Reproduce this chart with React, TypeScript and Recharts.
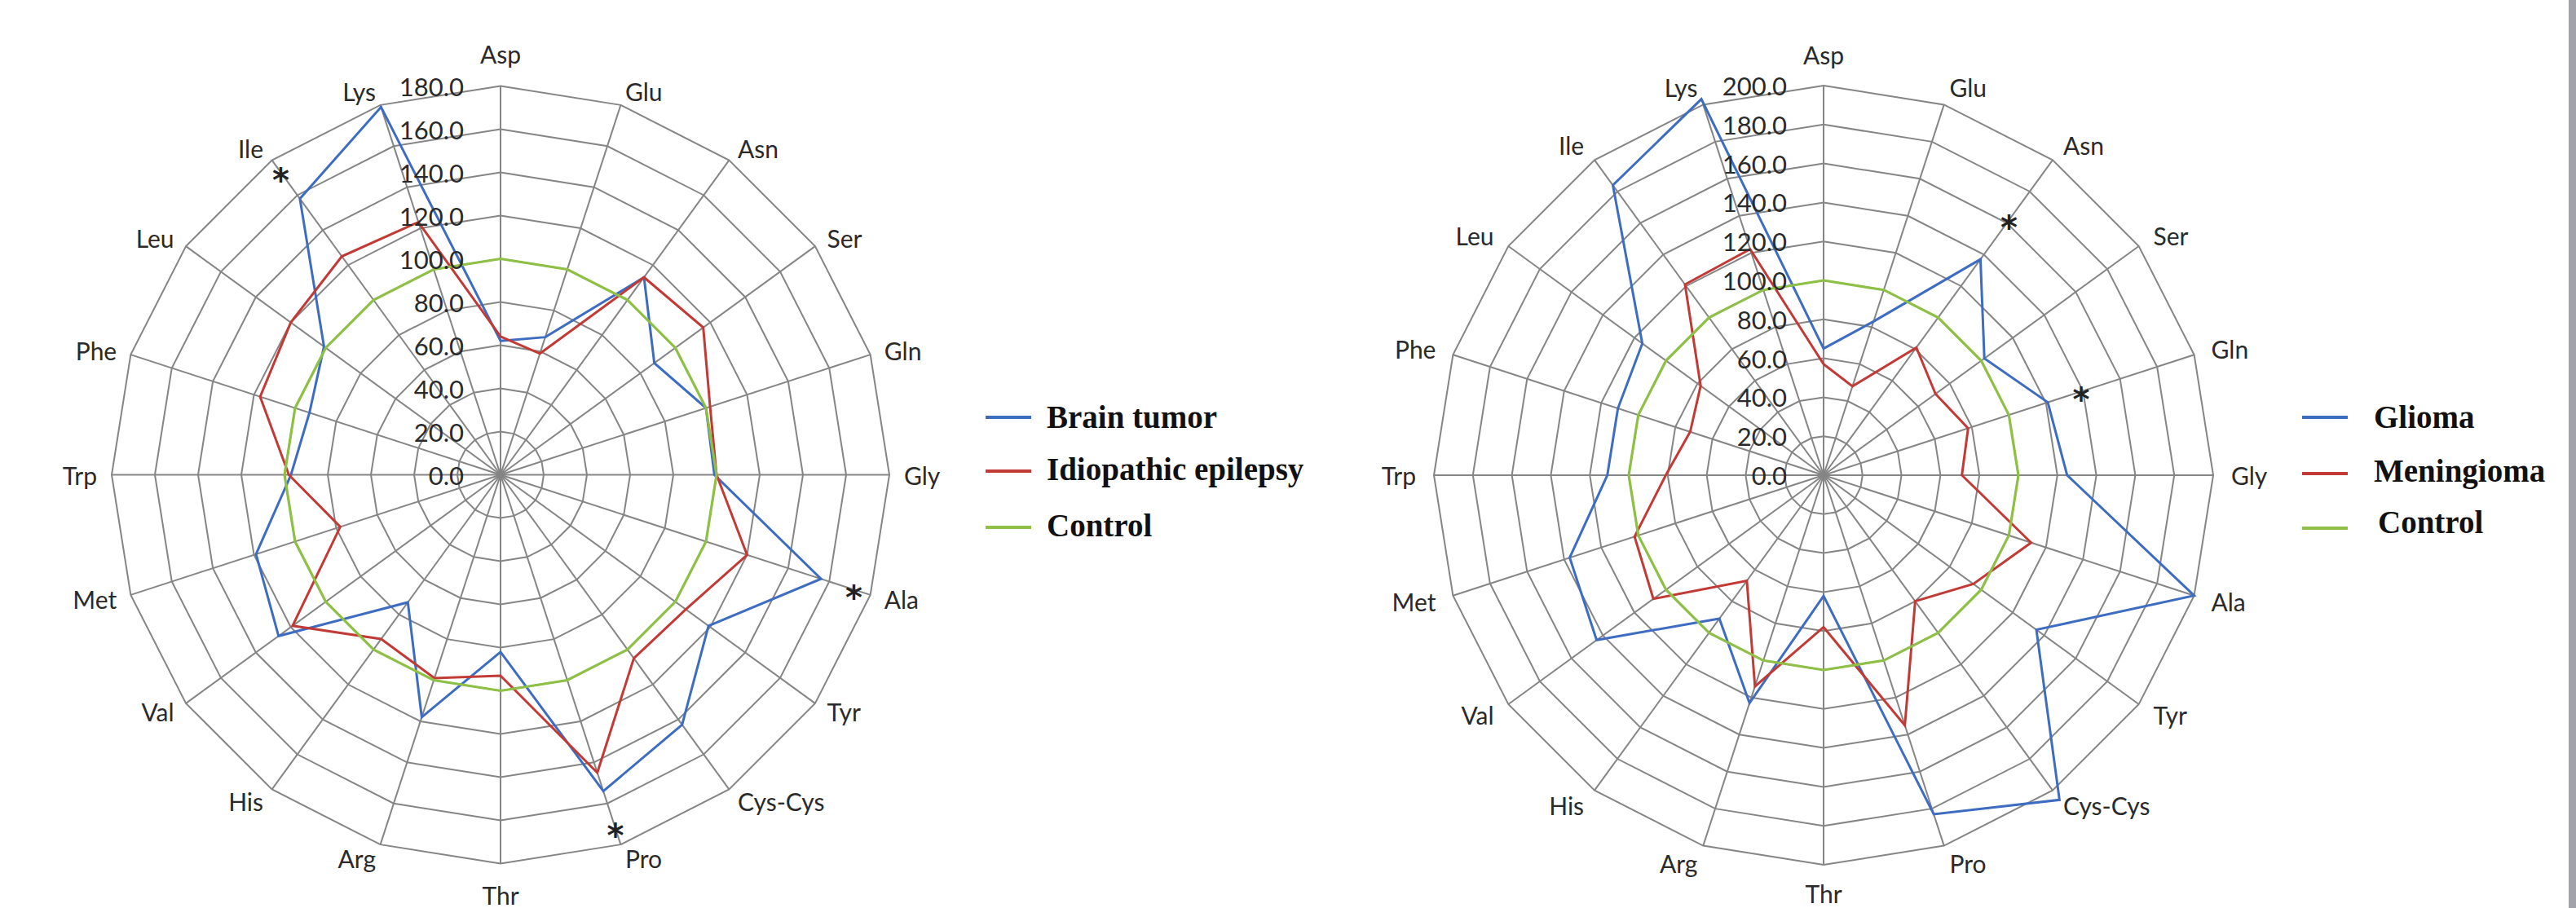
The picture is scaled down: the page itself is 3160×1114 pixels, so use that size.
import React from 'react';
import { RadarChart, Radar, PolarGrid, PolarAngleAxis, PolarRadiusAxis, Legend } from 'recharts';

// ---------- data ----------
const aminoAcids = ['Asp', 'Glu', 'Asn', 'Ser', 'Gln', 'Gly', 'Ala', 'Tyr', 'Cys-Cys', 'Pro', 'Thr', 'Arg', 'His', 'Val', 'Met', 'Trp', 'Phe', 'Leu', 'Ile', 'Lys'];

// left panel
const brainTumor = [62, 67, 113, 88, 100, 99, 156, 119, 143, 154, 82, 118, 73, 127, 119, 97, 93, 101, 158, 179];
const epilepsy = [64, 59, 113, 116, 102, 100, 120, 106, 105, 145, 93, 99, 94, 119, 78, 98, 117, 120, 125, 123];
const controlLeft = [100, 100, 100, 100, 100, 100, 100, 100, 100, 100, 100, 100, 100, 100, 100, 100, 100, 100, 100, 100];
const starsLeft = [0, 0, 0, 0, 0, 0, 172, 0, 0, 172, 0, 0, 0, 0, 0, 0, 0, 0, 173, 0];
const leftTicks = [0, 20, 40, 60, 80, 100, 120, 140, 160, 180];

// right panel
const glioma = [65, 83, 137, 102, 121, 125, 200, 135, 206, 183, 62, 123, 91, 144, 137, 111, 111, 115, 184, 203];
const meningioma = [57, 48, 81, 71, 78, 71, 112, 95, 80, 135, 78, 114, 67, 108, 102, 81, 72, 78, 121, 122];
const controlRight = [100, 100, 100, 100, 100, 100, 100, 100, 100, 100, 100, 100, 100, 100, 100, 100, 100, 100, 100, 100];
const starsRight = [0, 0, 162, 0, 139, 0, 0, 0, 0, 0, 0, 0, 0, 0, 0, 0, 0, 0, 0, 0];
const rightTicks = [0, 20, 40, 60, 80, 100, 120, 140, 160, 180, 200];

const leftNames = ['Brain tumor', 'Idiopathic epilepsy', 'Control'];
const rightNames = ['Glioma', 'Meningioma', 'Control'];

const BLUE = '#3D6CC0';
const RED = '#C23A36';
const GREEN = '#8FC046';
const GRID = '#858585';

const leftData = aminoAcids.map((name, i) => ({
  name,
  a: brainTumor[i],
  b: epilepsy[i],
  c: controlLeft[i],
  s: starsLeft[i],
}));

const rightData = aminoAcids.map((name, i) => ({
  name,
  a: glioma[i],
  b: meningioma[i],
  c: controlRight[i],
  s: starsRight[i],
}));

// ---------- renderers ----------
const makeAngleTick = (cx: number, cy: number, R: number, gap: number, vTop: number, vBottom: number) => (props: any) => {
  const { x, y, payload } = props;
  const dx = x - cx;
  const dy = y - cy;
  const len = Math.sqrt(dx * dx + dy * dy) || 1;
  const ux = dx / len;
  const uy = dy / len;
  const label = String(payload.value);
  const r = R + gap;
  let px = cx + ux * r;
  let py = cy + uy * r;
  let anchor: 'start' | 'end' | 'middle' = 'middle';
  if (Math.abs(ux) < 0.05) {
    py += uy < 0 ? -vTop : vBottom;
  } else {
    anchor = ux > 0 ? 'start' : 'end';
  }
  return (
    <text
      x={px}
      y={py}
      textAnchor={anchor}
      dominantBaseline="central"
      fontFamily="Lato, sans-serif"
      fontSize={30}
      fill="#2a2a2a"
    >
      {label}
    </text>
  );
};

const radiusTick = (props: any) => {
  const { x, y, payload } = props;
  return (
    <text
      x={x - 45}
      y={y}
      textAnchor="end"
      dominantBaseline="central"
      fontFamily="Lato, sans-serif"
      fontSize={31}
      fill="#2a2a2a"
    >
      {Number(payload.value).toFixed(1)}
    </text>
  );
};

const makeStarDot = (cx0: number, cy0: number) => (props: any) => {
  const { cx, cy, index } = props;
  if (!Number.isFinite(cx) || !Number.isFinite(cy)) return <g key={`st-${index}`} />;
  const d = Math.hypot(cx - cx0, cy - cy0);
  if (d < 20) return <g key={`st-${index}`} />;
  return (
    <text
      key={`st-${index}`}
      x={cx}
      y={cy}
      dy="0.58em"
      textAnchor="middle"
      fontFamily="DejaVu Sans, sans-serif"
      fontSize={40}
      fontWeight="bold"
      fill="#222"
    >
      *
    </text>
  );
};

type Row = { lineY: number; textDy: number; textX: number };

const makeLegend = (names: string[], colors: string[], rows: Row[]) => () => (
  <svg width={420} height={230}>
    {names.map((name, i) => {
      const row = rows[i];
      return (
        <g key={`lg-${i}`}>
          <line x1={4} x2={60} y1={row.lineY} y2={row.lineY} stroke={colors[i]} strokeWidth={4} />
          <text
            x={row.textX}
            y={row.lineY + row.textDy}
            fontFamily="'Liberation Serif', 'Times New Roman', serif"
            fontWeight="bold"
            fontSize={39}
            fill="#111"
          >
            {name}
          </text>
        </g>
      );
    })}
  </svg>
);

type PanelProps = {
  data: any[];
  names: string[];
  ticks: number[];
  width: number;
  cx: number;
  cy: number;
  R: number;
  gap: number;
  vTop: number;
  vBottom: number;
  legendLeft: number;
  legendTop: number;
  rows: Row[];
};

const Panel = ({ data, names, ticks, width, cx, cy, R, gap, vTop, vBottom, legendLeft, legendTop, rows }: PanelProps) => {
  const colors = [BLUE, RED, GREEN];
  return (
    <RadarChart
      width={width}
      height={1114}
      data={data}
      cx={cx}
      cy={cy}
      outerRadius={R}
      margin={{ top: 0, right: 0, bottom: 0, left: 0 }}
    >
      <PolarGrid gridType="polygon" stroke={GRID} strokeWidth={2} />
      <PolarAngleAxis
        dataKey="name"
        tick={makeAngleTick(cx, cy, R, gap, vTop, vBottom)}
        tickLine={false}
        axisLine={false}
      />
      <PolarRadiusAxis
        angle={90}
        domain={[0, ticks[ticks.length - 1]]}
        ticks={ticks as any}
        tickCount={ticks.length}
        allowDataOverflow
        axisLine={false}
        tick={radiusTick}
      />
      <Radar name={names[0]} dataKey="a" stroke={BLUE} strokeWidth={3} fill="none" fillOpacity={0} dot={false} isAnimationActive={false} />
      <Radar name={names[1]} dataKey="b" stroke={RED} strokeWidth={3} fill="none" fillOpacity={0} dot={false} isAnimationActive={false} />
      <Radar name={names[2]} dataKey="c" stroke={GREEN} strokeWidth={3.2} fill="none" fillOpacity={0} dot={false} isAnimationActive={false} />
      <Radar
        name="stars"
        dataKey="s"
        stroke="transparent"
        strokeWidth={0}
        fill="none"
        fillOpacity={0}
        legendType="none"
        dot={makeStarDot(cx, cy)}
        isAnimationActive={false}
      />
      <Legend
        layout="vertical"
        align="right"
        verticalAlign="middle"
        wrapperStyle={{ position: 'absolute', left: legendLeft, top: legendTop, width: 420, height: 230 }}
        content={makeLegend(names, colors, rows)}
      />
    </RadarChart>
  );
};

export default function App() {
  return (
    <div style={{ position: 'absolute', left: 0, top: 0, width: 3160, height: 1114, background: '#fff', overflow: 'hidden' }}>
      <div style={{ position: 'absolute', left: 0, top: 0 }}>
        <Panel
          data={leftData}
          names={leftNames}
          ticks={leftTicks}
          width={1600}
          cx={614}
          cy={582.5}
          R={477}
          gap={18}
          vTop={22}
          vBottom={20}
          legendLeft={1205}
          legendTop={480}
          rows={[
            { lineY: 32, textDy: 13, textX: 79 },
            { lineY: 98, textDy: 11, textX: 79 },
            { lineY: 167, textDy: 11, textX: 79 },
          ]}
        />
      </div>
      <div style={{ position: 'absolute', left: 1600, top: 0 }}>
        <Panel
          data={rightData}
          names={rightNames}
          ticks={rightTicks}
          width={1551}
          cx={637}
          cy={583}
          R={478}
          gap={22}
          vTop={16}
          vBottom={13}
          legendLeft={1220}
          legendTop={480}
          rows={[
            { lineY: 32, textDy: 13, textX: 92 },
            { lineY: 101, textDy: 10, textX: 92 },
            { lineY: 168, textDy: 6, textX: 97 },
          ]}
        />
      </div>
      <div style={{ position: 'absolute', left: 3151, top: 0, width: 9, height: 1114, background: '#a2a2aa' }} />
    </div>
  );
}
